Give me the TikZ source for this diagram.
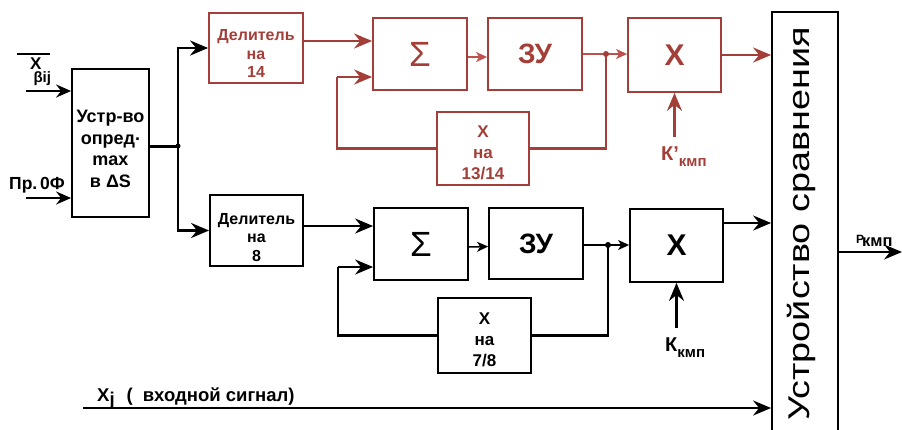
\documentclass[tikz,border=0pt]{standalone}
\usepackage{fontspec}
\setmainfont{Liberation Sans}
\usetikzlibrary{arrows.meta}
\definecolor{rc}{RGB}{163,62,56}
\definecolor{rcl}{RGB}{192,80,77}
\newcommand\fsz[2]{\fontsize{#1}{#2}\selectfont}
\begin{document}
\begin{tikzpicture}[x=1pt,y=-1pt,
  blk/.style={draw, line width=1.8pt, inner sep=0pt, align=center},
  con/.style={line width=2.2pt, -{Stealth[length=18pt,width=15pt,inset=6pt]}},
  inp/.style={line width=2.4pt, -{Stealth[length=15pt,width=13pt,inset=5pt]}},
  thin/.style={line width=1.5pt, -{Stealth[length=11pt,width=10pt,inset=3pt]}},
  ln/.style={line width=2.2pt},
  dot/.style={circle, fill, inner sep=0pt, minimum size=6pt},
  lab/.style={inner sep=0pt, font=\bfseries}
]
\useasboundingbox (0,0) rectangle (902,429);

% left block
\node[blk, minimum width=77pt, minimum height=148pt, font=\bfseries\fsz{18}{21.5}] (L) at (110.5,143) {\rule{0pt}{24pt}Устр-во\\опред\raisebox{4pt}{.}\\max\\в ΔS};

% red row
\node[blk, draw=rc, text=rc, minimum width=94pt, minimum height=70pt, font=\bfseries\fsz{16}{18.5}] (D14) at (256,48) {\rule{0pt}{22pt}Делитель\\на\\14};
\node[blk, draw=rc, text=rc, minimum width=94pt, minimum height=72pt, font=\fsz{35}{35}] (S1) at (420,54) {Σ};
\node[blk, draw=rc, text=rc, minimum width=94pt, minimum height=72pt, font=\bfseries\fsz{28}{28}] (Z1) at (535,54) {ЗУ};
\node[blk, draw=rc, text=rc, minimum width=93pt, minimum height=74pt, font=\bfseries\fsz{30}{30}] (X1) at (674.5,55) {X};
\node[blk, draw=rc, text=rc, minimum width=92pt, minimum height=73pt, font=\bfseries\fsz{17}{21}] (M1) at (483,148.5) {\rule{0pt}{20pt}X\\на\\13/14};

% black row
\node[blk, minimum width=93pt, minimum height=71pt, font=\bfseries\fsz{16}{18.5}] (D8) at (256.5,230.5) {\rule{0pt}{25pt}Делитель\\на\\8};
\node[blk, minimum width=94pt, minimum height=72pt, font=\fsz{35}{35}] (S2) at (421,244) {Σ};
\node[blk, minimum width=94pt, minimum height=71pt, font=\bfseries\fsz{28}{28}] (Z2) at (536,243.5) {ЗУ};
\node[blk, minimum width=93pt, minimum height=73pt, font=\bfseries\fsz{30}{30}] (X2) at (676.5,245.5) {X};
\node[blk, minimum width=93pt, minimum height=75pt, font=\bfseries\fsz{17}{21}] (M2) at (484.5,335.5) {\rule{0pt}{21pt}X\\на\\7/8};

% comparison device
\node[blk, minimum width=66pt, minimum height=440pt] (U) at (805,232) {};
\node[inner sep=0pt, rotate=90, font=\fsz{30}{30}] (Ut) at (801,224) {\scalebox{1.26}[1]{Устройство сравнения}};

% labels
\draw[line width=1.5pt] (17,54) -- (50,54);
\node[lab, anchor=base west, font=\bfseries\fsz{17}{17}] (xb) at (30,69) {X\kern-8pt\raisebox{-13.5pt}{\fsz{15}{15}βij}};
\node[lab, anchor=base west, font=\bfseries\fsz{17.5}{17.5}] (pr) at (9,189) {Пр.\,0Ф};
\node[lab, anchor=base west, text=rc, font=\bfseries\fsz{20}{20}] (kp) at (661,160) {К’\raisebox{-6pt}{\fsz{15}{15}кмп}};
\node[lab, anchor=base west, font=\bfseries\fsz{20}{20}] (k) at (665,351) {К\raisebox{-6pt}{\fsz{15}{15}кмп}};
\node[lab, anchor=base west, font=\bfseries\fsz{18.5}{18.5}] (xj) at (97,401) {X\raisebox{-4pt}{j}\hspace{12pt}(\hspace{10pt}входной сигнал)};
\node[lab, anchor=base west, font=\bfseries\fsz{12}{12}] (pk) at (856,243) {P\kern-2pt\raisebox{-3pt}{\fsz{16.5}{16.5}кмп}};

% coordinates
\coordinate (in1) at (26,91);
\coordinate (in2) at (26,198);
\coordinate (J) at (178,146);
\coordinate (xs) at (83,408);
\coordinate (po) at (902,252);
\coordinate (kin1) at (674.5,137);
\coordinate (kin2) at (676.5,328);
\coordinate (fb1) at (337,77);
\coordinate (fb2) at (338,267);
\coordinate (d1) at (606,54);
\coordinate (d2) at (608,245);

% left connections
\draw[inp] (in1) -- (in1 -| L.west);
\draw[inp] (in2) -- (in2 -| L.west);
\draw[line width=3pt] (L.east |- J) -- (J);
\draw[con, line width=2.6pt] (J) |- (D14.west);
\draw[con, line width=2.6pt] (J) |- (D8.west);
\node[dot, minimum size=5pt] (jd) at (J) {};

% red row connections
\draw[con, rc] ([yshift=7pt]D14.east) -- ([yshift=7pt]D14.east -| S1.west);
\draw[thin, rcl] ([yshift=-3pt]S1.east) -- ([yshift=-3pt]Z1.west);
\draw[thin, rcl] (Z1.east |- d1) -- (d1 -| X1.west);
\draw[ln, rc] (M1.west) -| (fb1);
\draw[con, rc] (fb1) -- (fb1 -| S1.west);
\draw[ln, rc] (d1) |- (M1.east);
\node[dot, fill=rc] (d1d) at (d1) {};
\draw[con, rc] (X1.east) -- (X1.east -| U.west);
\draw[con, rc] (kin1) -- (X1.south);

% black row connections
\draw[con] ([yshift=4.5pt]D8.east) -- ([yshift=4.5pt]D8.east -| S2.west);
\draw[thin] ([yshift=-3pt]S2.east) -- ([yshift=-3pt]Z2.west);
\draw[thin] (Z2.east |- d2) -- (d2 -| X2.west);
\draw[ln] (M2.west) -| (fb2);
\draw[con] (fb2) -- (fb2 -| S2.west);
\draw[ln] (d2) |- (M2.east);
\node[dot] (d2d) at (d2) {};
\draw[con] ([yshift=22.5pt]X2.east) -- ([yshift=22.5pt]X2.east -| U.west);
\draw[con] (kin2) -- (X2.south);

% input signal and output
\draw[con] (xs) -- (xs -| U.west);
\draw[con] (U.east |- po) -- (po);
\end{tikzpicture}
\end{document}
